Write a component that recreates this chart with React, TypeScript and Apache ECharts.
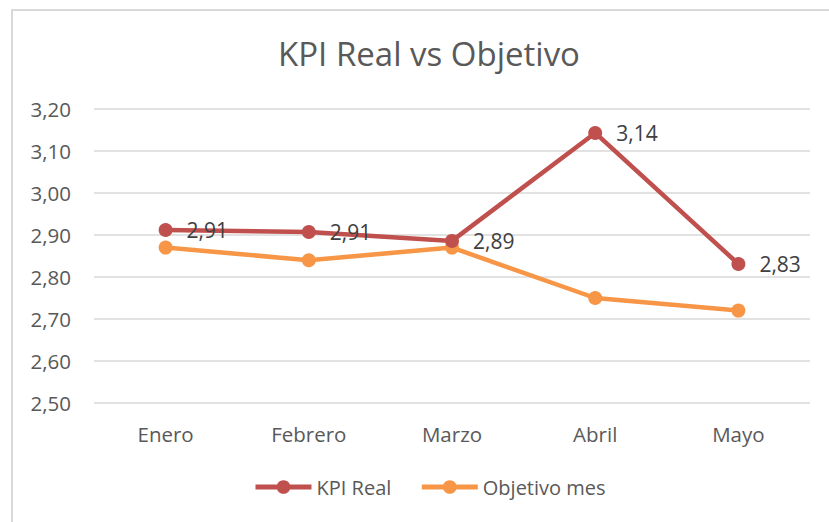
import React, { useEffect, useRef } from "react";
import * as echarts from "echarts";

const categories = ["Enero", "Febrero", "Marzo", "Abril", "Mayo"];
const kpiReal = [2.912, 2.907, 2.886, 3.143, 2.831];
const objetivoMes = [2.87, 2.84, 2.87, 2.75, 2.72];

const FONT = "'Open Sans', 'Noto Sans', sans-serif";
const fmt = (v: number) => v.toFixed(2).replace(".", ",");

export default function App() {
  const ref = useRef<HTMLDivElement>(null);
  useEffect(() => {
    if (!ref.current) return;
    const chart = echarts.init(ref.current, null, { renderer: "svg" });
    chart.setOption({
      animation: false,
      backgroundColor: "#ffffff",
      textStyle: { fontFamily: FONT },
      graphic: [
        {
          type: "rect",
          shape: { x: 12, y: 10, width: 840, height: 540 },
          style: { fill: "none", stroke: "#d9d9d9", lineWidth: 2 },
          silent: true,
          z: -1,
        },
      ],
      title: {
        text: "KPI Real vs Objetivo",
        left: 424,
        textAlign: "center",
        top: 32,
        textStyle: { fontFamily: FONT, fontSize: 33, fontWeight: "normal", color: "#595959" },
      },
      legend: {
        bottom: 25,
        left: 253,
        padding: 0,
        itemWidth: 56,
        itemHeight: 17,
        itemGap: 28,
        lineStyle: { width: 5 },
        textStyle: { fontFamily: FONT, fontSize: 20, color: "#595959" },
        data: ["KPI Real", "Objetivo mes"],
      },
      grid: { left: 94, right: 19, top: 109, bottom: 119, containLabel: false },
      xAxis: {
        type: "category",
        data: categories,
        boundaryGap: true,
        axisLine: { show: false },
        axisTick: { show: false },
        axisLabel: { fontFamily: FONT, fontSize: 20.5, color: "#595959", margin: 20 },
      },
      yAxis: {
        type: "value",
        min: 2.5,
        max: 3.2,
        interval: 0.1,
        axisLine: { show: false },
        axisTick: { show: false },
        splitLine: { lineStyle: { color: "#d9d9d9", width: 1.5 } },
        axisLabel: {
          fontFamily: FONT,
          fontSize: 20.5,
          color: "#595959",
          margin: 23,
          formatter: (v: number) => fmt(v),
        },
      },
      series: [
        {
          name: "KPI Real",
          type: "line",
          data: kpiReal,
          symbol: "circle",
          symbolSize: 14,
          itemStyle: { color: "#C0504D" },
          lineStyle: { color: "#C0504D", width: 4.5 },
          label: {
            show: true,
            position: "right",
            distance: 14,
            fontFamily: FONT,
            fontSize: 21,
            color: "#404040",
            formatter: (p: any) => fmt(p.value),
          },
          z: 3,
        },
        {
          name: "Objetivo mes",
          type: "line",
          data: objetivoMes,
          symbol: "circle",
          symbolSize: 14,
          itemStyle: { color: "#F79646" },
          lineStyle: { color: "#F79646", width: 4.5 },
          z: 2,
        },
      ],
    });
    return () => chart.dispose();
  }, []);
  return (
    <div
      ref={ref}
      style={{ position: "fixed", left: 0, top: 0, width: 829, height: 522 }}
    />
  );
}
